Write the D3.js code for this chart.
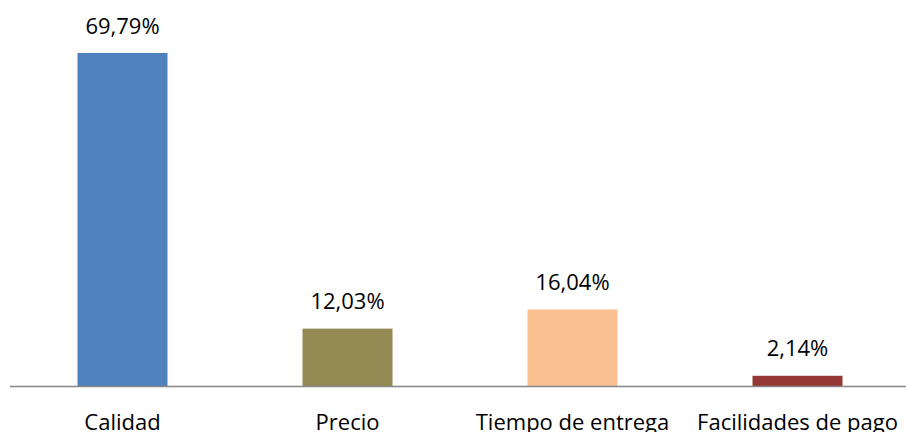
<!DOCTYPE html>
<html><head><meta charset="utf-8">
<script src="https://cdn.jsdelivr.net/npm/d3@7"></script>
<style>body{margin:0;background:#fff}</style>
</head><body><svg id="c" width="906" height="432"></svg>
<script>
const categories = ["Calidad", "Precio", "Tiempo de entrega", "Facilidades de pago"];
const values = [69.79, 12.03, 16.04, 2.14];
const labels = ["69,79%", "12,03%", "16,04%", "2,14%"];
const colors = ["#4F81BD", "#948A54", "#FAC090", "#953735"];

const svg = d3.select("#c");
const x = d3.scaleBand().domain(categories).range([10, 910]).paddingInner(0.6).paddingOuter(0.3);
const y = d3.scaleLinear().domain([0, 80]).range([386, 4.3]);
const font = "'Open Sans', sans-serif";

svg.selectAll("rect.bar").data(values).join("rect")
  .attr("x", (d,i) => x(categories[i]))
  .attr("width", x.bandwidth())
  .attr("y", d => y(d))
  .attr("height", d => y(0) - y(d))
  .attr("fill", (d,i) => colors[i]);

svg.append("line").attr("x1", 10).attr("x2", 906).attr("y1", 386.5).attr("y2", 386.5)
  .attr("stroke", "#868686").attr("stroke-width", 1.5);

svg.selectAll("text.val").data(values).join("text")
  .attr("x", (d,i) => x(categories[i]) + x.bandwidth()/2)
  .attr("y", d => y(d) - 19.5)
  .attr("text-anchor", "middle")
  .attr("font-family", font).attr("font-size", 22).attr("fill", "#000")
  .text((d,i) => labels[i]);

svg.selectAll("text.cat").data(categories).join("text")
  .attr("x", d => x(d) + x.bandwidth()/2)
  .attr("y", 430)
  .attr("text-anchor", "middle")
  .attr("font-family", font).attr("font-size", 22).attr("fill", "#000")
  .text(d => d);
</script></body></html>
